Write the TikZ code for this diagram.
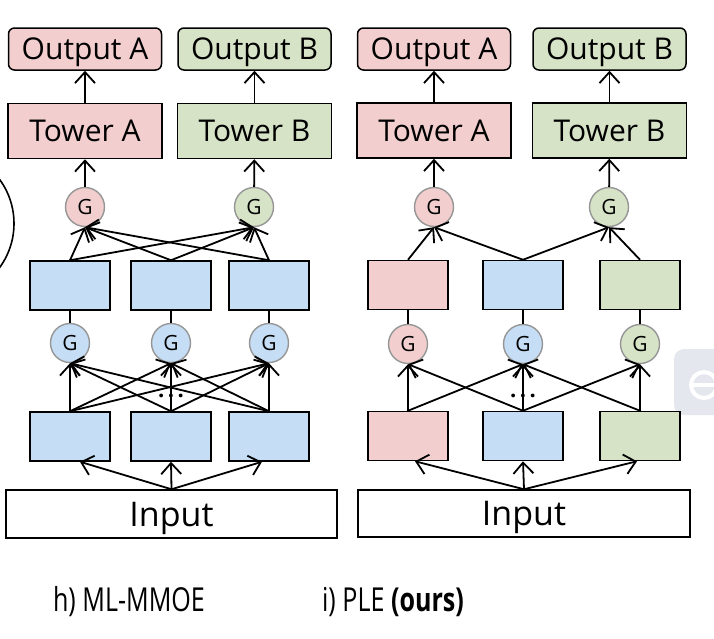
\documentclass[tikz,border=0pt]{standalone}
\usepackage{fontspec}
\setmainfont{Open Sans}
\newfontfamily\capfont[FakeStretch=0.76]{Open Sans}
\usetikzlibrary{arrows.meta}
\definecolor{pinkfill}{RGB}{242,206,206}
\definecolor{greenfill}{RGB}{214,227,198}
\definecolor{bluefill}{RGB}{198,222,245}
\definecolor{gateline}{RGB}{150,150,150}
\definecolor{badgefill}{RGB}{228,231,238}

\tikzset{
  outbox/.style={draw, line width=1.5pt, rounded corners=6pt, minimum width=153pt, minimum height=42pt, inner sep=0pt, text height=21.5pt, text depth=0pt, font=\fontsize{30}{30}\selectfont},
  towerbox/.style={draw, line width=1.5pt, minimum width=154pt, minimum height=55pt, inner sep=0pt, text height=21.5pt, text depth=0pt, font=\fontsize{30}{30}\selectfont},
  expert/.style={draw, line width=1.5pt, minimum width=80pt, minimum height=49pt, inner sep=0pt},
  gate/.style={circle, draw=gateline, line width=1.4pt, minimum size=39pt, inner sep=0pt, text height=15pt, text depth=0pt, font=\fontsize{21}{21}\selectfont},
  inbox/.style={draw, line width=1.5pt, minimum width=331pt, minimum height=48pt, inner sep=0pt, text height=24.5pt, text depth=0pt, font=\fontsize{34}{34}\selectfont},
  dots/.style={anchor=base, font=\fontsize{22}{22}\selectfont\bfseries},
  link/.style={->, >={Straight Barb[length=11pt,width=20pt,line width=1.8pt]}, line width=1.8pt},
  plainlink/.style={line width=1.8pt},
}

\begin{document}
\begin{tikzpicture}[x=1pt, y=-1pt]
      \useasboundingbox (0,0) rectangle (714,638);
      % cut-off pieces at the edges
      \begin{scope}
        \clip (0,0) rectangle (714,638);
        \draw[line width=1.6pt] (-60.6,223.5) circle[radius=74.6];
        \fill[badgefill, rounded corners=10pt] (674,349) rectangle (740,415);
        \draw[white, line width=4pt] (704,385) circle[radius=13];
        \draw[white, line width=4pt] (690,385) -- (714,385);
      \end{scope}
      % ML-MMOE: outputs and towers
      \node[outbox, fill=pinkfill] (outA) at (85,49) {Output A};
      \node[outbox, fill=greenfill] (outB) at (254.5,49) {Output B};
      \node[towerbox, fill=pinkfill] (towerA) at (85,131) {Tower A};
      \node[towerbox, fill=greenfill] (towerB) at (254.5,131) {Tower B};
      \node[gate, fill=pinkfill] (gateA) at (85,207) {G};
      \node[gate, fill=greenfill] (gateB) at (254,207) {G};
      % ML-MMOE: experts and gates
      \node[expert, fill=bluefill] (expL1) at (70,285.5) {};
      \node[expert, fill=bluefill] (expL2) at (171,285.5) {};
      \node[expert, fill=bluefill] (expL3) at (269,285.5) {};
      \node[gate, fill=bluefill] (gateL1) at (70,343) {G};
      \node[gate, fill=bluefill] (gateL2) at (171,343) {G};
      \node[gate, fill=bluefill] (gateL3) at (269,343) {G};
      \node[expert, fill=bluefill] (expL4) at (70,436.5) {};
      \node[expert, fill=bluefill] (expL5) at (171,436.5) {};
      \node[expert, fill=bluefill] (expL6) at (269,436.5) {};
      \node[dots] (dotsL) at (171,397) {.\hspace{3.5pt}.\hspace{3.5pt}.};
      \node[inbox] (inL) at (171.5,514) {Input};
      \node[font=\fontsize{33}{33}\selectfont] (capL) at (129,602) {\capfont h) ML-MMOE};
      % ML-MMOE: arrows
      \draw[link] (towerA) -- (outA);
      \draw[link] (towerB) -- (outB);
      \draw[link] (gateA) -- (towerA);
      \draw[link] (gateB) -- (towerB);
      \draw[link] (expL1.north) -- (gateA.south);
      \draw[link] (expL2.north) -- (gateA.south);
      \draw[link] (expL3.north) -- (gateA.south);
      \draw[link] (expL1.north) -- (gateB.south);
      \draw[link] (expL2.north) -- (gateB.south);
      \draw[link] (expL3.north) -- (gateB.south);
      \draw[plainlink] (gateL1) -- (expL1);
      \draw[plainlink] (gateL2) -- (expL2);
      \draw[plainlink] (gateL3) -- (expL3);
      \draw[link] (expL4.north) -- (gateL1.south);
      \draw[link] (expL5.north) -- (gateL1.south);
      \draw[link] (expL6.north) -- (gateL1.south);
      \draw[link] (expL4.north) -- (gateL2.south);
      \draw[link] (expL5.north) -- (gateL2.south);
      \draw[link] (expL6.north) -- (gateL2.south);
      \draw[link] (expL4.north) -- (gateL3.south);
      \draw[link] (expL5.north) -- (gateL3.south);
      \draw[link] (expL6.north) -- (gateL3.south);
      \draw[link] (inL.north) -- ([xshift=10pt]expL4.south);
      \draw[link] (inL.north) -- (expL5.south);
      \draw[link] (inL.north) -- ([xshift=-7pt]expL6.south);
      % PLE: outputs and towers
      \node[outbox, fill=pinkfill] (outA2) at (434,49) {Output A};
      \node[outbox, fill=greenfill] (outB2) at (609.5,49) {Output B};
      \node[towerbox, fill=pinkfill] (towerA2) at (434,130.5) {Tower A};
      \node[towerbox, fill=greenfill] (towerB2) at (609.5,130.5) {Tower B};
      \node[gate, fill=pinkfill] (gateA2) at (434,207) {G};
      \node[gate, fill=greenfill] (gateB2) at (609,207) {G};
      % PLE: experts and gates
      \node[expert, fill=pinkfill] (expR1) at (408,285) {};
      \node[expert, fill=bluefill] (expR2) at (523,285) {};
      \node[expert, fill=greenfill] (expR3) at (640,285) {};
      \node[gate, fill=pinkfill] (gateR1) at (408,344) {G};
      \node[gate, fill=bluefill] (gateR2) at (523,344) {G};
      \node[gate, fill=greenfill] (gateR3) at (640,344) {G};
      \node[expert, fill=pinkfill] (expR4) at (408,436) {};
      \node[expert, fill=bluefill] (expR5) at (523,436) {};
      \node[expert, fill=greenfill] (expR6) at (640,436) {};
      \node[dots] (dotsR) at (523,397) {.\hspace{3.5pt}.\hspace{3.5pt}.};
      \node[inbox, minimum width=332pt, minimum height=47pt] (inR) at (524,513.5) {Input};
      \node[font=\fontsize{33}{33}\selectfont] (capR) at (393,602) {\capfont i) PLE \textbf{(ours)}};
      % PLE: arrows
      \draw[link] (towerA2) -- (outA2);
      \draw[link] (towerB2) -- (outB2);
      \draw[link] (gateA2) -- (towerA2);
      \draw[link] (gateB2) -- (towerB2);
      \draw[link] (expR1.north) -- (gateA2.south);
      \draw[link] (expR2.north) -- (gateA2.south);
      \draw[link] (expR2.north) -- (gateB2.south);
      \draw[link] (expR3.north) -- (gateB2.south);
      \draw[plainlink] (gateR1) -- (expR1);
      \draw[plainlink] (gateR2) -- (expR2);
      \draw[plainlink] (gateR3) -- (expR3);
      \draw[link] (expR4.north) -- (gateR1.south);
      \draw[link] (expR4.north) -- (gateR2.south);
      \draw[link] (expR5.north) -- (gateR1.south);
      \draw[link] (expR5.north) -- (gateR2.south);
      \draw[link] (expR5.north) -- (gateR3.south);
      \draw[link] (expR6.north) -- (gateR2.south);
      \draw[link] (expR6.north) -- (gateR3.south);
      \draw[link] (inR.north) -- ([xshift=7pt]expR4.south);
      \draw[link] (inR.north) -- (expR5.south);
      \draw[link] (inR.north) -- ([xshift=-3pt]expR6.south);
\end{tikzpicture}
\end{document}
